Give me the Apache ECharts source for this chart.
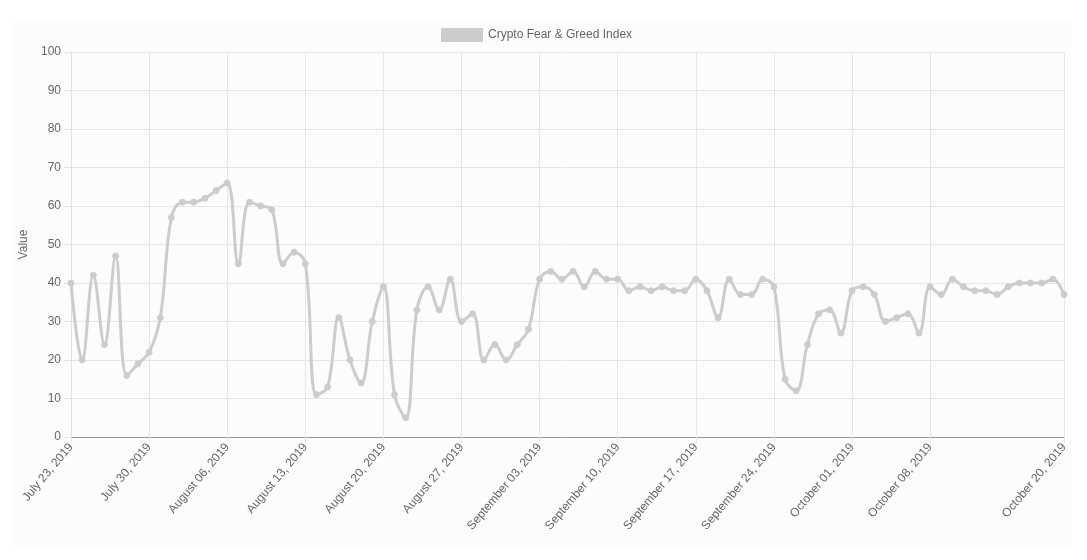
<!DOCTYPE html>
<html>
<head>
<meta charset="utf-8">
<script src="https://cdn.jsdelivr.net/npm/echarts@6/dist/echarts.min.js"></script>
<style>
  html, body { margin: 0; padding: 0; background: #ffffff; }
  #panel { position: absolute; left: 13px; top: 20px; width: 1058px; height: 528px; background: #fcfcfc; }
  #chart { position: absolute; left: 0; top: 0; width: 1087px; height: 560px; }
</style>
</head>
<body>
<div id="panel"></div>
<div id="chart"></div>
<script>
const dates = [
  "July 23, 2019","July 24, 2019","July 25, 2019","July 26, 2019","July 27, 2019","July 28, 2019","July 29, 2019","July 30, 2019","July 31, 2019",
  "August 01, 2019","August 02, 2019","August 03, 2019","August 04, 2019","August 05, 2019","August 06, 2019","August 07, 2019","August 08, 2019",
  "August 09, 2019","August 10, 2019","August 11, 2019","August 12, 2019","August 13, 2019","August 14, 2019","August 15, 2019","August 16, 2019",
  "August 17, 2019","August 18, 2019","August 19, 2019","August 20, 2019","August 21, 2019","August 22, 2019","August 23, 2019","August 24, 2019",
  "August 25, 2019","August 26, 2019","August 27, 2019","August 28, 2019","August 29, 2019","August 30, 2019","August 31, 2019",
  "September 01, 2019","September 02, 2019","September 03, 2019","September 04, 2019","September 05, 2019","September 06, 2019","September 07, 2019",
  "September 08, 2019","September 09, 2019","September 10, 2019","September 11, 2019","September 12, 2019","September 13, 2019","September 14, 2019",
  "September 15, 2019","September 16, 2019","September 17, 2019","September 18, 2019","September 19, 2019","September 20, 2019","September 21, 2019",
  "September 22, 2019","September 23, 2019","September 24, 2019","September 25, 2019","September 26, 2019","September 27, 2019","September 28, 2019",
  "September 29, 2019","September 30, 2019",
  "October 01, 2019","October 02, 2019","October 03, 2019","October 04, 2019","October 05, 2019","October 06, 2019","October 07, 2019","October 08, 2019",
  "October 09, 2019","October 10, 2019","October 11, 2019","October 12, 2019","October 13, 2019","October 14, 2019","October 15, 2019","October 16, 2019",
  "October 17, 2019","October 18, 2019","October 19, 2019","October 20, 2019"
];

const fearGreedValues = [
  40, 20, 42, 24, 47, 16, 19, 22, 31,
  57, 61, 61, 62, 64, 66, 45, 61, 60, 59, 45, 48, 45, 11, 13, 31, 20, 14, 30, 39, 11, 5, 33, 39, 33, 41, 30, 32, 20, 24, 20,
  24, 28, 41, 43, 41, 43, 39, 43, 41, 41, 38, 39, 38, 39, 38, 38, 41, 38, 31, 41, 37, 37, 41, 39, 15, 12, 24, 32, 33, 27,
  38, 39, 37, 30, 31, 32, 27, 39, 37, 41, 39, 38, 38, 37, 39, 40, 40, 40, 41, 37
];

const seriesName = "Crypto Fear & Greed Index";
const yAxisName = "Value";

const lastIdx = dates.length - 1;
function showTick(idx) {
  return idx === lastIdx || (idx % 7 === 0 && idx < lastIdx - 6);
}

const chart = echarts.init(document.getElementById('chart'));
const font = "'Liberation Sans', Arial, Helvetica, sans-serif";
chart.setOption({
  animation: false,
  backgroundColor: 'transparent',
  textStyle: { fontFamily: font },
  legend: {
    top: 23,
    left: 436,
    itemWidth: 42,
    itemHeight: 14,
    itemGap: 5,
    icon: 'rect',
    textStyle: { color: '#666', fontSize: 12, fontFamily: font },
    data: [{ name: seriesName, itemStyle: { color: '#cccccc' } }]
  },
  grid: { left: 71, right: 23, top: 52, bottom: 123, containLabel: false },
  xAxis: {
    type: 'category',
    data: dates,
    boundaryGap: false,
    axisLine: { lineStyle: { color: '#999', width: 1 } },
    axisTick: { show: true, length: 6, interval: showTick, lineStyle: { color: '#e6e6e6' } },
    axisLabel: {
      interval: showTick,
      rotate: 50,
      color: '#666',
      fontSize: 12,
      fontFamily: font,
      margin: 8
    },
    splitLine: { show: true, interval: showTick, lineStyle: { color: '#e6e6e6', width: 1 } }
  },
  yAxis: {
    type: 'value',
    min: 0,
    max: 100,
    interval: 10,
    name: yAxisName,
    nameLocation: 'middle',
    nameGap: 41,
    nameRotate: 90,
    nameTextStyle: { color: '#666', fontSize: 12, fontFamily: font },
    axisLine: { show: true, lineStyle: { color: '#e0e0e0' } },
    axisTick: { show: true, length: 7, lineStyle: { color: '#e0e0e0' } },
    axisLabel: { color: '#666', fontSize: 12, fontFamily: font, margin: 10 },
    splitLine: { show: true, lineStyle: { color: '#e6e6e6', width: 1 } }
  },
  series: [{
    name: seriesName,
    type: 'line',
    data: fearGreedValues,
    smooth: 0.4,
    symbol: 'circle',
    symbolSize: 6,
    showAllSymbol: true,
    lineStyle: { color: '#cccccc', width: 3 },
    itemStyle: { color: '#cccccc', borderColor: '#cccccc' }
  }]
});
</script>
</body>
</html>
